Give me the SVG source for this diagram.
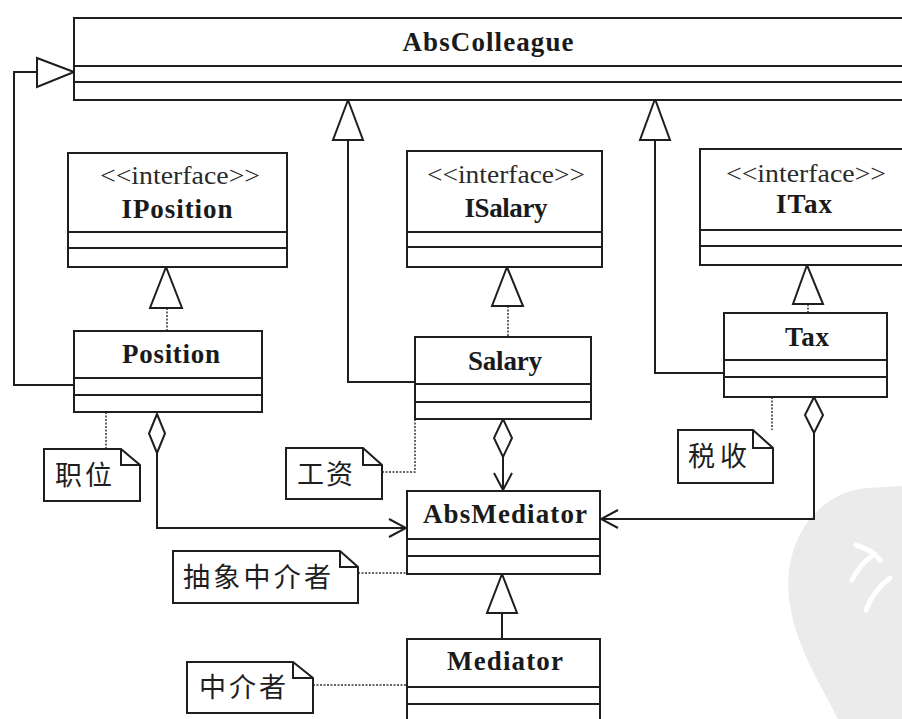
<svg xmlns="http://www.w3.org/2000/svg" width="902" height="719" viewBox="0 0 902 719">
<style>
.box{fill:#fff;stroke:#1e1e1e;stroke-width:2}
.ln{fill:none;stroke:#1e1e1e;stroke-width:2}
.dot{fill:none;stroke:#333;stroke-width:1.5;stroke-dasharray:2 1.5}
.tri{fill:#fff;stroke:#1e1e1e;stroke-width:2;stroke-linejoin:miter}
.name{font-family:'Liberation Serif','DejaVu Serif',serif;font-weight:700;font-size:27px;fill:#1a1a1a;text-anchor:middle}
.ster{font-family:'Liberation Serif','DejaVu Serif',serif;font-size:25px;fill:#2a2a2a;text-anchor:middle}
.cn{font-family:'Noto Sans CJK SC','Noto Sans CJK JP',sans-serif;font-size:27px;fill:#1e1e1e}
.note{fill:#fff;stroke:#1e1e1e;stroke-width:2}
</style>
<defs>
<marker id="open" markerWidth="20" markerHeight="20" refX="18" refY="10" orient="auto" markerUnits="userSpaceOnUse">
<path d="M1,1 L18,10 L1,19" fill="none" stroke="#1e1e1e" stroke-width="2"/>
</marker>
</defs>

<g id="watermark">
<path d="M790 605 C780 545 815 492 868 488 L902 486 L902 719 L838 719 C818 680 796 645 790 605 Z" fill="#ebebeb"/>
<path d="M856 545 C866 548 874 552 880 560 M852 580 C858 568 866 560 872 556 M866 610 C872 595 880 585 890 578" stroke="#fff" stroke-width="5" stroke-linecap="round" fill="none"/>
</g>

<g id="connectors">
<polyline class="ln" points="74,385 14,385 14,72 37,72"/>
<polygon class="tri" points="74,72 37,58 37,87"/>
<polyline class="ln" points="415,382 348,382 348,140"/>
<polygon class="tri" points="348,100 333,140 363,140"/>
<polyline class="ln" points="724,373 655,373 655,140"/>
<polygon class="tri" points="655,99 640,140 670,140"/>
<line class="dot" x1="167" y1="308" x2="167" y2="331"/>
<polygon class="tri" points="166,267 150,308 182,308"/>
<line class="dot" x1="508" y1="306" x2="508" y2="337"/>
<polygon class="tri" points="507,267 492,306 523,306"/>
<line class="dot" x1="808" y1="304" x2="808" y2="313"/>
<polygon class="tri" points="807,265 793,304 823,304"/>
<polyline class="ln" points="157,453 157,528 406,528" marker-end="url(#open)"/>
<polygon class="tri" points="157,414 165,433.5 157,453 149,433.5"/>
<line class="ln" x1="503" y1="457" x2="503" y2="490" marker-end="url(#open)"/>
<polygon class="tri" points="503,419 512,438 503,457 494,438"/>
<polyline class="ln" points="814,433 814,519 601,519" marker-end="url(#open)"/>
<polygon class="tri" points="814,397 823,415 814,433 805,415"/>
<line class="ln" x1="502" y1="613" x2="502" y2="639"/>
<polygon class="tri" points="502,574 487,613 517,613"/>
<line class="dot" x1="106" y1="412" x2="106" y2="449"/>
<polyline class="dot" points="382,472 415,472 415,419"/>
<line class="dot" x1="772" y1="397" x2="772" y2="430"/>
<line class="dot" x1="358" y1="573" x2="407" y2="573"/>
<line class="dot" x1="313" y1="685" x2="407" y2="685"/>
</g>

<g id="AbsColleague">
<rect class="box" x="74" y="18" width="830" height="82"/>
<line class="ln" x1="74" y1="66" x2="904" y2="66"/>
<line class="ln" x1="74" y1="82" x2="904" y2="82"/>
<text class="name" x="488" y="51" textLength="171" lengthAdjust="spacing">AbsColleague</text>
</g>

<g id="IPosition">
<rect class="box" x="68" y="153" width="219" height="114"/>
<line class="ln" x1="68" y1="232" x2="287" y2="232"/>
<line class="ln" x1="68" y1="248" x2="287" y2="248"/>
<text class="ster" x="180" y="184" textLength="160" lengthAdjust="spacingAndGlyphs">&lt;&lt;interface&gt;&gt;</text>
<text class="name" x="177" y="218" textLength="111" lengthAdjust="spacing">IPosition</text>
</g>

<g id="ISalary">
<rect class="box" x="407" y="151" width="195" height="116"/>
<line class="ln" x1="407" y1="232" x2="602" y2="232"/>
<line class="ln" x1="407" y1="247" x2="602" y2="247"/>
<text class="ster" x="506" y="183" textLength="158" lengthAdjust="spacingAndGlyphs">&lt;&lt;interface&gt;&gt;</text>
<text class="name" x="506" y="217" textLength="83" lengthAdjust="spacing">ISalary</text>
</g>

<g id="ITax">
<rect class="box" x="700" y="149" width="206" height="116"/>
<line class="ln" x1="700" y1="230" x2="906" y2="230"/>
<line class="ln" x1="700" y1="246" x2="906" y2="246"/>
<text class="ster" x="806" y="182" textLength="160" lengthAdjust="spacingAndGlyphs">&lt;&lt;interface&gt;&gt;</text>
<text class="name" x="804" y="213" textLength="56" lengthAdjust="spacing">ITax</text>
</g>

<g id="Position">
<rect class="box" x="74" y="331" width="188" height="81"/>
<line class="ln" x1="74" y1="378" x2="262" y2="378"/>
<line class="ln" x1="74" y1="395" x2="262" y2="395"/>
<text class="name" x="171" y="363" textLength="98" lengthAdjust="spacing">Position</text>
</g>

<g id="Salary">
<rect class="box" x="415" y="337" width="176" height="82"/>
<line class="ln" x1="415" y1="384" x2="591" y2="384"/>
<line class="ln" x1="415" y1="402" x2="591" y2="402"/>
<text class="name" x="505" y="370" textLength="74" lengthAdjust="spacing">Salary</text>
</g>

<g id="Tax">
<rect class="box" x="724" y="313" width="163" height="84"/>
<line class="ln" x1="724" y1="360" x2="887" y2="360"/>
<line class="ln" x1="724" y1="377" x2="887" y2="377"/>
<text class="name" x="807" y="346" textLength="44" lengthAdjust="spacing">Tax</text>
</g>

<g id="AbsMediator">
<rect class="box" x="407" y="491" width="193" height="83"/>
<line class="ln" x1="407" y1="539" x2="600" y2="539"/>
<line class="ln" x1="407" y1="556" x2="600" y2="556"/>
<text class="name" x="505" y="523" textLength="164" lengthAdjust="spacing">AbsMediator</text>
</g>

<g id="Mediator">
<rect class="box" x="407" y="639" width="193" height="90"/>
<line class="ln" x1="407" y1="687" x2="600" y2="687"/>
<line class="ln" x1="407" y1="704" x2="600" y2="704"/>
<text class="name" x="505" y="670" textLength="116" lengthAdjust="spacing">Mediator</text>
</g>

<g id="note-position">
<path class="note" d="M44,449 L121,449 L140,465 L140,501 L44,501 Z"/>
<path class="ln" d="M121,449 L121,465 L140,465"/>
<text class="cn" x="55" y="485" textLength="57" lengthAdjust="spacing">职位</text>
</g>

<g id="note-salary">
<path class="note" d="M286,448 L363,448 L382,465 L382,499 L286,499 Z"/>
<path class="ln" d="M363,448 L363,465 L382,465"/>
<text class="cn" x="297" y="484" textLength="56" lengthAdjust="spacing">工资</text>
</g>

<g id="note-tax">
<path class="note" d="M678,430 L753,430 L773,448 L773,483 L678,483 Z"/>
<path class="ln" d="M753,430 L753,448 L773,448"/>
<text class="cn" x="688" y="466" textLength="59" lengthAdjust="spacing">税收</text>
</g>

<g id="note-absmediator">
<path class="note" d="M173,551 L340,551 L358,567 L358,603 L173,603 Z"/>
<path class="ln" d="M340,551 L340,567 L358,567"/>
<text class="cn" x="183" y="587" textLength="148" lengthAdjust="spacing">抽象中介者</text>
</g>

<g id="note-mediator">
<path class="note" d="M187,662 L293,662 L313,678 L313,713 L187,713 Z"/>
<path class="ln" d="M293,662 L293,678 L313,678"/>
<text class="cn" x="199" y="697" textLength="87" lengthAdjust="spacing">中介者</text>
</g>
</svg>
